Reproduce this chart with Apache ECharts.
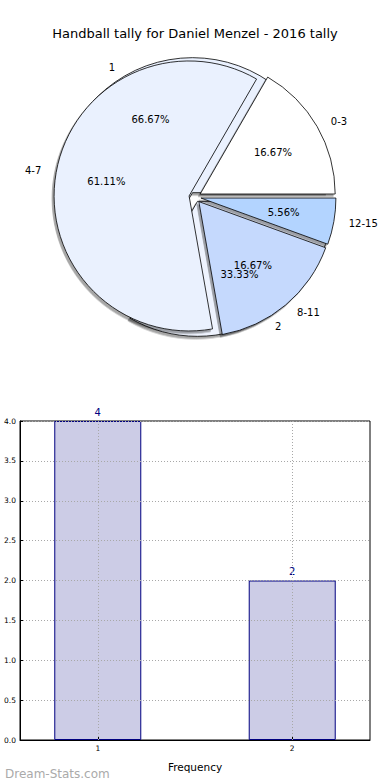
<!DOCTYPE html>
<html><head><meta charset="utf-8">
<script src="https://cdn.jsdelivr.net/npm/echarts@6/dist/echarts.min.js"></script>
<style>html,body{margin:0;padding:0;background:#fff}#c{width:390px;height:780px}</style>
</head><body><div id="c"></div>
<script>
const titleText = 'Handball tally for Daniel Menzel - 2016 tally';
const watermarkText = 'Dream-Stats.com';
// Pie B: goals ranges
const rangeCategories = ['0-3', '4-7', '8-11', '12-15'];
const rangeValues = [3, 11, 3, 1];
const rangeColors = ['#ffffff', '#eaf1fe', '#c5d9fd', '#b3d4ff'];
// Pie A: frequency
const freqCategories = ['1', '2'];
const freqValues = [4, 2];
const freqColors = ['#eaf1fe', '#eef3fe'];
// Bar chart
const barX = [1, 2];
const barValues = [4, 2];
const xTickValues = [1, 2];
const xAxisName = 'Frequency';

const FONT = '"DejaVu Sans", sans-serif';
const C = [195, 197];
const R = 135;

function pct(list) {
  const s = list.reduce((a, b) => a + b, 0);
  return p => (p.value / s * 100).toFixed(2) + '%';
}
function pieData(names, vals, colors) {
  return names.map((n, i) => ({ name: n, value: vals[i], selected: true, itemStyle: { color: colors[i] } }));
}
function overlayData(names, vals) {
  return names.map((n, i) => ({ name: n, value: vals[i], selected: true }));
}
const shadowBorder = { borderColor: '#000', borderWidth: 0.8, shadowColor: 'rgba(0,0,0,0.35)', shadowOffsetX: -2, shadowOffsetY: 2.5, shadowBlur: 1 };
const outLabel = { show: true, position: 'outside', formatter: '{b}', color: '#000', fontFamily: FONT, fontSize: 10 };
const outLine = { show: false, length: 10, length2: 0 };

const chart = echarts.init(document.getElementById('c'), null, { renderer: 'svg' });
chart.setOption({
  animation: false,
  backgroundColor: '#fff',
  title: [{
    text: titleText, left: 'center', top: 22,
    textStyle: { fontFamily: FONT, fontSize: 13, fontWeight: 'normal', color: '#000' }
  }, {
    text: watermarkText, left: 0, top: 763,
    textStyle: { fontFamily: FONT, fontSize: 12, fontWeight: 'normal', color: '#aaaaaa' }
  }],
  grid: { left: 20, right: 20, top: 421, bottom: 40, show: true, borderColor: '#000', borderWidth: 1, backgroundColor: 'rgba(0,0,0,0)' },
  xAxis: {
    type: 'value', min: 0.6, max: 2.4, z: 3,
    name: xAxisName, nameLocation: 'middle', nameGap: 21,
    nameTextStyle: { fontFamily: FONT, fontSize: 10.5, color: '#000' },
    axisLine: { show: true, lineStyle: { color: '#000', width: 1 } },
    axisTick: { show: true, inside: true, length: 3, customValues: xTickValues, lineStyle: { color: '#000' } },
    axisLabel: { customValues: xTickValues, fontFamily: FONT, fontSize: 7.5, color: '#000', margin: 4 },
    splitLine: { show: false }
  },
  yAxis: {
    type: 'value', min: 0, max: 4, interval: 0.5, z: 3,
    axisLine: { show: true, lineStyle: { color: '#000', width: 1 } },
    axisTick: { show: true, inside: true, length: 3, lineStyle: { color: '#000' } },
    axisLabel: { formatter: v => v.toFixed(1), fontFamily: FONT, fontSize: 7.5, color: '#000', margin: 4 },
    splitLine: { show: true, lineStyle: { color: '#a8a8a8', type: [1, 2], width: 1 } }
  },
  series: [
    {
      type: 'pie', center: C, radius: R, startAngle: 0, clockwise: false, z: 1,
      selectedMode: 'multiple', selectedOffset: 5, avoidLabelOverlap: false,
      emphasis: { disabled: true }, silent: true, labelLayout: { hideOverlap: false },
      itemStyle: shadowBorder,
      label: outLabel, labelLine: outLine,
      data: pieData(freqCategories, freqValues, freqColors)
    },
    {
      type: 'pie', center: C, radius: R, startAngle: 0, clockwise: false, z: 2,
      selectedMode: 'multiple', selectedOffset: 6, avoidLabelOverlap: false,
      emphasis: { disabled: true }, silent: true, labelLayout: { hideOverlap: false },
      itemStyle: shadowBorder,
      label: outLabel, labelLine: outLine,
      data: pieData(rangeCategories, rangeValues, rangeColors)
    },
    {
      type: 'pie', center: C, radius: R * 1.2, startAngle: 0, clockwise: false, z: 3,
      selectedMode: 'multiple', selectedOffset: 5, avoidLabelOverlap: false,
      emphasis: { disabled: true }, silent: true, labelLayout: { hideOverlap: false },
      itemStyle: { color: 'rgba(0,0,0,0)', borderWidth: 0 },
      label: { show: true, position: 'inside', formatter: pct(freqValues), color: '#000', fontFamily: FONT, fontSize: 10 },
      labelLine: { show: false },
      data: overlayData(freqCategories, freqValues)
    },
    {
      type: 'pie', center: C, radius: R * 1.2, startAngle: 0, clockwise: false, z: 4,
      selectedMode: 'multiple', selectedOffset: 6, avoidLabelOverlap: false,
      emphasis: { disabled: true }, silent: true, labelLayout: { hideOverlap: false },
      itemStyle: { color: 'rgba(0,0,0,0)', borderWidth: 0 },
      label: { show: true, position: 'inside', formatter: pct(rangeValues), color: '#000', fontFamily: FONT, fontSize: 10 },
      labelLine: { show: false },
      data: overlayData(rangeCategories, rangeValues)
    },
    {
      type: 'bar', barWidth: 87, z: 2,
      itemStyle: { color: '#ccccE6', borderColor: '#000080', borderWidth: 1 },
      label: { show: true, position: 'top', distance: 4, formatter: p => String(p.value[1]), color: '#000080', fontFamily: FONT, fontSize: 10 },
      emphasis: { disabled: true },
      data: barX.map((x, i) => [x, barValues[i]]),
      markLine: {
        silent: true, symbol: 'none', label: { show: false },
        lineStyle: { color: '#a8a8a8', type: [1, 2], width: 1 },
        data: xTickValues.map(v => ({ xAxis: v }))
      }
    }
  ]
});
</script>
</body></html>
